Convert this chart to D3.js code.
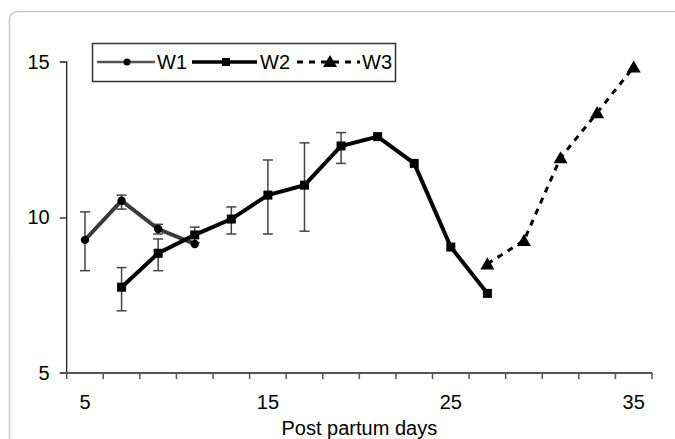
<!DOCTYPE html>
<html>
<head>
<meta charset="utf-8">
<script src="https://cdn.jsdelivr.net/npm/d3@7"></script>
<style>
  body { margin: 0; background: #fff; }
  text { font-family: "Liberation Sans", Arial, sans-serif; fill: #000; }
</style>
</head>
<body>
<div id="chart"></div>
<script>
// Data
const days = [5, 7, 9, 11, 13, 15, 17, 19, 21, 23, 25, 27, 29, 31, 33, 35]
const xTickLabels = [5, 15, 25, 35]
const yTicks = [5, 10, 15]

const w1Days = [5, 7, 9, 11]
const w1Values = [9.28, 10.54, 9.63, 9.15]
const w1Upper = [10.18, 10.72, 9.78, null]
const w1Lower = [8.29, 10.27, 9.47, null]

const w2Days = [7, 9, 11, 13, 15, 17, 19, 21, 23, 25, 27]
const w2Values = [7.76, 8.85, 9.44, 9.95, 10.72, 11.04, 12.3, 12.6, 11.74, 9.05, 7.56]
const w2Upper = [8.39, 9.31, 9.69, 10.34, 11.85, 12.4, 12.73, null, null, null, null]
const w2Lower = [7.0, 8.29, 9.19, 9.47, 9.47, 9.56, 11.74, null, null, null, null]

const w3Days = [27, 29, 31, 33, 35]
const w3Values = [8.51, 9.26, 11.92, 13.37, 14.84]

const seriesNames = ["W1", "W2", "W3"]

function drawChart() {
    const width = 675
    const height = 439
    const dims = { left: 66.7, right: 652, top: 62, bottom: 373 }

    const svg = d3.select("#chart")
        .append("svg")
            .attr("width", width)
            .attr("height", height)

  // Frame
    svg.append("rect")
        .attr("x", 9.5).attr("y", 11.5)
        .attr("width", 720).attr("height", 500)
        .attr("rx", 8)
        .attr("fill", "none")
        .attr("stroke", "#c8c8c8")
        .attr("stroke-width", 1.5)

  // Scales
    const xScale = d3.scaleBand()
        .domain(days)
        .range([dims.left, dims.right])
    const xPos = d => xScale(d) + xScale.bandwidth() / 2

    const yScale = d3.scaleLinear()
        .domain([5, 15])
        .range([dims.bottom, dims.top])

  // Axes
    const yAxis = svg.append("g")
        .attr("transform", `translate(${dims.left},0)`)
        .call(d3.axisLeft(yScale).tickValues(yTicks).tickSize(7).tickPadding(10))
    yAxis.select(".domain").attr("stroke", "#222").attr("stroke-width", 1.3)
        .attr("d", `M-7,${dims.top}H0V${dims.bottom}`)
    yAxis.selectAll(".tick line").attr("stroke", "#222").attr("stroke-width", 1.3)
    yAxis.selectAll(".tick text").style("font-size", "20px")
    yAxis.selectAll(".tick").filter(d => d === 5 || d === 15).select("line").remove()

    const xAxis = svg.append("g")
        .attr("transform", `translate(0,${dims.bottom})`)
    xAxis.append("line")
        .attr("x1", dims.left - 7).attr("x2", dims.right)
        .attr("stroke", "#555").attr("stroke-width", 2)
    xAxis.selectAll(".xtick")
        .data(days.concat(["end"]))
        .join("line")
            .attr("class", "xtick")
            .attr("x1", d => d === "end" ? dims.right : xScale(d))
            .attr("x2", d => d === "end" ? dims.right : xScale(d))
            .attr("y1", 0).attr("y2", 6)
            .attr("stroke", "#555").attr("stroke-width", 1.5)
    xAxis.selectAll(".xlabel")
        .data(xTickLabels)
        .join("text")
            .attr("class", "xlabel")
            .attr("x", d => xPos(d))
            .attr("y", 36)
            .attr("text-anchor", "middle")
            .style("font-size", "20px")
            .text(d => d)

    svg.append("text")
        .attr("x", (dims.left + dims.right) / 2)
        .attr("y", 435)
        .attr("text-anchor", "middle")
        .style("font-size", "20px")
        .text("Post partum days")

  // Error bars
    const errData = []
    w1Days.forEach((d, i) => { if (w1Upper[i] != null) errData.push([d, w1Upper[i], w1Lower[i]]) })
    w2Days.forEach((d, i) => { if (w2Upper[i] != null) errData.push([d, w2Upper[i], w2Lower[i]]) })
    const errG = svg.append("g")
        .attr("stroke", "#444")
        .attr("stroke-width", 1.5)
    errData.forEach(e => {
        const x = xPos(e[0])
        errG.append("line").attr("x1", x).attr("x2", x).attr("y1", yScale(e[1])).attr("y2", yScale(e[2]))
        errG.append("line").attr("x1", x - 5).attr("x2", x + 5).attr("y1", yScale(e[1])).attr("y2", yScale(e[1]))
        errG.append("line").attr("x1", x - 5).attr("x2", x + 5).attr("y1", yScale(e[2])).attr("y2", yScale(e[2]))
    })

  // Lines
    const lineGen = d3.line()
        .x(d => xPos(d[0]))
        .y(d => yScale(d[1]))

    const w1 = w1Days.map((d, i) => [d, w1Values[i]])
    const w2 = w2Days.map((d, i) => [d, w2Values[i]])
    const w3 = w3Days.map((d, i) => [d, w3Values[i]])

    svg.append("path")
        .attr("d", lineGen(w1))
        .attr("fill", "none")
        .attr("stroke", "#3a3a3a")
        .attr("stroke-width", 4)
    svg.append("path")
        .attr("d", lineGen(w2))
        .attr("fill", "none")
        .attr("stroke", "#000")
        .attr("stroke-width", 4)
    svg.append("path")
        .attr("d", lineGen(w3))
        .attr("fill", "none")
        .attr("stroke", "#000")
        .attr("stroke-width", 3)
        .attr("stroke-dasharray", "6,6")

  // Markers
    const triangle = d3.symbol().type(d3.symbolTriangle).size(85)
    svg.selectAll(".m1").data(w1).join("circle")
        .attr("cx", d => xPos(d[0])).attr("cy", d => yScale(d[1]))
        .attr("r", 4.2).attr("fill", "#000")
    svg.selectAll(".m2").data(w2).join("rect")
        .attr("x", d => xPos(d[0]) - 4.5).attr("y", d => yScale(d[1]) - 4.5)
        .attr("width", 9).attr("height", 9).attr("fill", "#000")
    svg.selectAll(".m3").data(w3).join("path")
        .attr("d", triangle)
        .attr("transform", d => `translate(${xPos(d[0])},${yScale(d[1]) + 1.5})`)
        .attr("fill", "#000")

  // Legend
    const legend = svg.append("g")
    legend.append("rect")
        .attr("x", 92.5).attr("y", 43.5)
        .attr("width", 303).attr("height", 38)
        .attr("fill", "#fff")
        .attr("stroke", "#333")
        .attr("stroke-width", 1.5)
    const ly = 62
    const items = [
        { x1: 97, x2: 155, mx: 127, tx: 157, stroke: "#555", sw: 2.5, dash: null },
        { x1: 192, x2: 257, mx: 226, tx: 260, stroke: "#000", sw: 3.5, dash: null },
        { x1: 297, x2: 360, mx: 330, tx: 362, stroke: "#000", sw: 3, dash: "6,6" },
    ]
    items.forEach((it, i) => {
        legend.append("line")
            .attr("x1", it.x1).attr("x2", it.x2)
            .attr("y1", ly).attr("y2", ly)
            .attr("stroke", it.stroke)
            .attr("stroke-width", it.sw)
            .attr("stroke-dasharray", it.dash)
        if (i === 0) {
            legend.append("circle").attr("cx", it.mx).attr("cy", ly).attr("r", 3.5).attr("fill", "#000")
        } else if (i === 1) {
            legend.append("rect").attr("x", it.mx - 4).attr("y", ly - 4).attr("width", 8).attr("height", 8).attr("fill", "#000")
        } else {
            legend.append("path").attr("d", triangle).attr("transform", `translate(${it.mx},${ly + 1})`).attr("fill", "#000")
        }
        legend.append("text")
            .attr("x", it.tx)
            .attr("y", ly)
            .attr("dy", "0.36em")
            .style("font-size", "20px")
            .text(seriesNames[i])
    })
}

drawChart()
</script>
</body>
</html>
